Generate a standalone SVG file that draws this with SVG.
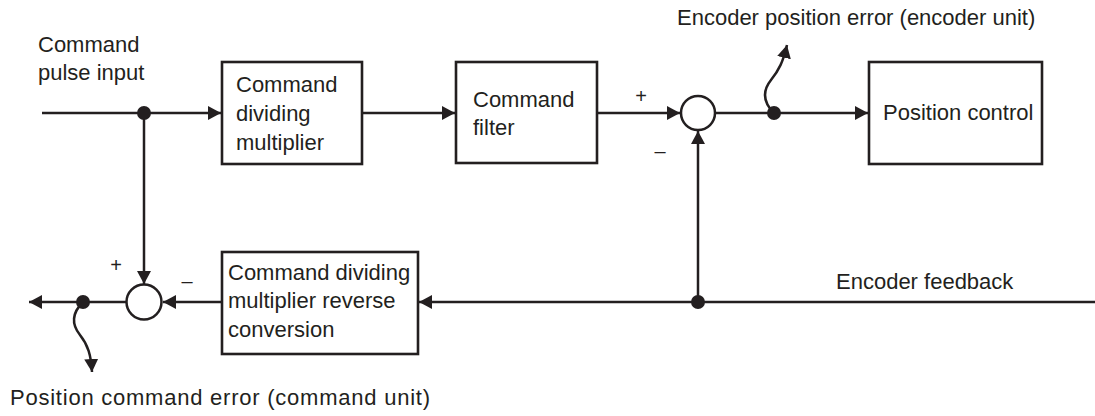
<svg xmlns="http://www.w3.org/2000/svg" width="1095" height="416" viewBox="0 0 1095 416">
<defs>
<style>
.ln{fill:none;stroke:#231f20;stroke-width:2.5}
.bx{fill:#fff;stroke:#231f20;stroke-width:2.6}
.dot{fill:#231f20}
.t{font-family:"Liberation Sans",Arial,sans-serif;font-size:22px;fill:#231f20}
.s{font-family:"Liberation Sans",Arial,sans-serif;font-size:20px;fill:#231f20;text-anchor:middle}
</style>
<marker id="ah" viewBox="0 0 13 14" refX="13" refY="7" markerWidth="13" markerHeight="14" markerUnits="userSpaceOnUse" orient="auto">
<path d="M0,0 L13,7 L0,14 z" fill="#231f20"/>
</marker>
</defs>
<rect width="1095" height="416" fill="#fff"/>

<g id="connectors">
<path class="ln" d="M42,113 H221" marker-end="url(#ah)"/>
<path class="ln" d="M362,113 H455" marker-end="url(#ah)"/>
<path class="ln" d="M597,113 H680" marker-end="url(#ah)"/>
<path class="ln" d="M715,113 H868" marker-end="url(#ah)"/>
<path class="ln" d="M1095,302 H419" marker-end="url(#ah)"/>
<path class="ln" d="M222,302 H163" marker-end="url(#ah)"/>
<path class="ln" d="M126,302 H29" marker-end="url(#ah)"/>
<path class="ln" d="M144,113 V284" marker-end="url(#ah)"/>
<path class="ln" d="M698,302 V131" marker-end="url(#ah)"/>
<path class="ln" d="M774,113 C762,101 763,90 771,80 C779,70 783,62 787,45" marker-end="url(#ah)"/>
<path class="ln" d="M83,302 C71,314 72,325 80,335 C88,345 91,355 92,372" marker-end="url(#ah)"/>
<circle class="dot" cx="144" cy="113" r="7"/>
<circle class="dot" cx="774" cy="113" r="7"/>
<circle class="dot" cx="698" cy="302" r="7"/>
<circle class="dot" cx="83" cy="302" r="7"/>
</g>

<g id="input-label">
<text class="t" x="38" y="52">Command</text>
<text class="t" x="38" y="80">pulse input</text>
</g>

<g id="cmd-div-mult">
<rect class="bx" x="222" y="62" width="140" height="102"/>
<text class="t" x="236" y="92">Command</text>
<text class="t" x="236" y="121">dividing</text>
<text class="t" x="236" y="150">multiplier</text>
</g>

<g id="cmd-filter">
<rect class="bx" x="456" y="62" width="141" height="101"/>
<text class="t" x="473" y="107">Command</text>
<text class="t" x="473" y="135">filter</text>
</g>

<g id="sum-top">
<circle class="ln" cx="698" cy="113" r="17"/>
<text class="s" x="641" y="103">+</text>
<text class="s" x="660" y="158">–</text>
</g>

<g id="position-control">
<rect class="bx" x="869" y="62" width="173" height="102"/>
<text class="t" x="883" y="120">Position control</text>
</g>

<g id="enc-pos-err-label">
<text class="t" x="677" y="25">Encoder position error (encoder unit)</text>
</g>

<g id="cmd-div-mult-rev">
<rect class="bx" x="222" y="252" width="196" height="102"/>
<text class="t" x="228" y="280">Command dividing</text>
<text class="t" x="228" y="308">multiplier reverse</text>
<text class="t" x="228" y="337">conversion</text>
</g>

<g id="sum-bottom">
<circle class="ln" cx="144" cy="302" r="17.5"/>
<text class="s" x="116" y="272">+</text>
<text class="s" x="187" y="288">–</text>
</g>

<g id="enc-feedback-label">
<text class="t" x="836" y="289">Encoder feedback</text>
</g>

<g id="pos-cmd-err-label">
<text class="t" x="10" y="405" textLength="420">Position command error (command unit)</text>
</g>
</svg>
